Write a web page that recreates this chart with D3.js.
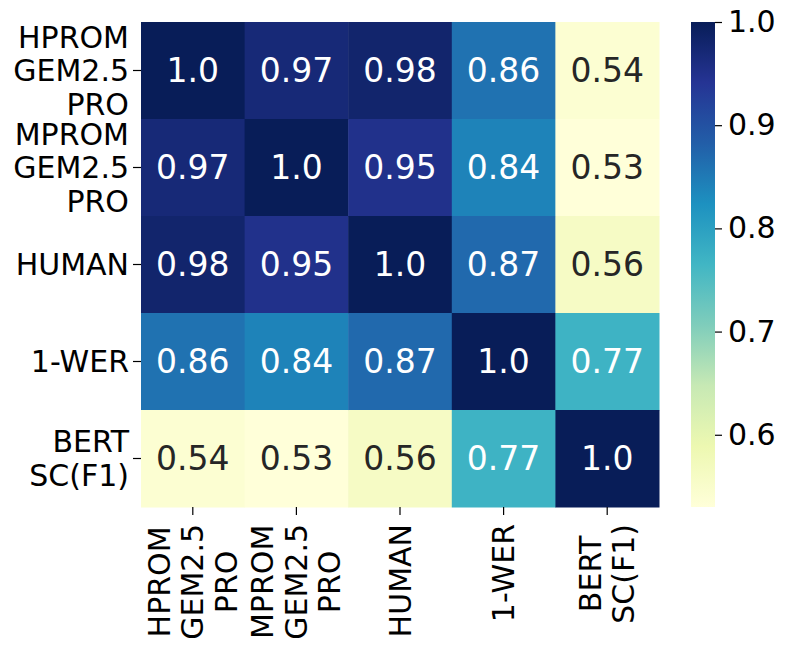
<!DOCTYPE html>
<html>
<head>
<meta charset="utf-8">
<script src="https://cdn.jsdelivr.net/npm/d3@7"></script>
<style>
  html, body { margin: 0; padding: 0; background: #fff; }
  svg { display: block; font-family: "DejaVu Sans", sans-serif; }
</style>
</head>
<body>
<svg id="chart" width="786" height="648"></svg>
<script>
// ---- data ----
const categories = [
  ["HPROM", "GEM2.5", "PRO"],
  ["MPROM", "GEM2.5", "PRO"],
  ["HUMAN"],
  ["1-WER"],
  ["BERT", "SC(F1)"]
];
const row0 = [1.0, 0.97, 0.98, 0.86, 0.54];
const row1 = [0.97, 1.0, 0.95, 0.84, 0.53];
const row2 = [0.98, 0.95, 1.0, 0.87, 0.56];
const row3 = [0.86, 0.84, 0.87, 1.0, 0.77];
const row4 = [0.54, 0.53, 0.56, 0.77, 1.0];
const matrix = [row0, row1, row2, row3, row4];
const colorbarTicks = [0.6, 0.7, 0.8, 0.9, 1.0];
const palette = ["#ffffd9", "#edf8b1", "#c7e9b4", "#7fcdbb", "#41b6c4",
                 "#1d91c0", "#225ea8", "#253494", "#081d58"];

// ---- layout ----
const svg = d3.select("#chart");
const hm = { x0: 141, x1: 659, y0: 22, y1: 507 };
const cb = { x0: 691, x1: 715 };
const labelSize = 30;
const annotSize = 33;
const lineH = 33.5;

const idx = d3.range(categories.length);
const x = d3.scaleBand().domain(idx).range([hm.x0, hm.x1]).padding(0);
const y = d3.scaleBand().domain(idx).range([hm.y0, hm.y1]).padding(0);

const allVals = matrix.flat();
const vmin = d3.min(allVals), vmax = d3.max(allVals);
const stops = palette.map((c, i) => vmin + (vmax - vmin) * i / (palette.length - 1));
const color = d3.scaleLinear().domain(stops).range(palette).interpolate(d3.interpolateRgb).clamp(true);

function textColor(c) {
  const rgb = d3.rgb(c);
  const lin = v => { v /= 255; return v <= 0.03928 ? v / 12.92 : Math.pow((v + 0.055) / 1.055, 2.4); };
  const l = 0.2126 * lin(rgb.r) + 0.7152 * lin(rgb.g) + 0.0722 * lin(rgb.b);
  return l > 0.408 ? "#262626" : "#ffffff";
}
const fmt = v => v === 1 ? "1.0" : d3.format(".2f")(v);

// ---- cells ----
const cells = [];
matrix.forEach((row, r) => row.forEach((v, c) => cells.push({ r, c, v })));

svg.append("g").selectAll("rect").data(cells).join("rect")
  .attr("x", d => x(d.c))
  .attr("y", d => y(d.r))
  .attr("width", x.bandwidth() + 0.5)
  .attr("height", y.bandwidth() + 0.5)
  .attr("fill", d => color(d.v));

svg.append("g").selectAll("text").data(cells).join("text")
  .attr("x", d => x(d.c) + x.bandwidth() / 2)
  .attr("y", d => y(d.r) + y.bandwidth() / 2)
  .attr("text-anchor", "middle")
  .attr("dominant-baseline", "central")
  .attr("font-size", annotSize)
  .attr("fill", d => textColor(color(d.v)))
  .text(d => fmt(d.v));

// ---- y axis ----
const yAxis = svg.append("g");
idx.forEach(i => {
  const cy = y(i) + y.bandwidth() / 2;
  yAxis.append("line").attr("x1", hm.x0 - 8).attr("x2", hm.x0).attr("y1", cy).attr("y2", cy)
    .attr("stroke", "#000").attr("stroke-width", 1.2);
  const lines = categories[i];
  const t = yAxis.append("text").attr("text-anchor", "end").attr("font-size", labelSize).attr("fill", "#000");
  lines.forEach((ln, k) => {
    t.append("tspan").attr("x", hm.x0 - 12)
      .attr("y", cy + (k - (lines.length - 1) / 2) * lineH)
      .attr("dominant-baseline", "central").text(ln);
  });
});

// ---- x axis ----
const xAxis = svg.append("g");
idx.forEach(i => {
  const cx = x(i) + x.bandwidth() / 2;
  xAxis.append("line").attr("x1", cx).attr("x2", cx).attr("y1", hm.y1).attr("y2", hm.y1 + 8)
    .attr("stroke", "#000").attr("stroke-width", 1.2);
  const lines = categories[i];
  const g = xAxis.append("g");
  const t = g.append("text").attr("text-anchor", "middle").attr("font-size", labelSize).attr("fill", "#000");
  const spans = lines.map((ln, k) => t.append("tspan").attr("x", 0)
      .attr("y", (k - (lines.length - 1) / 2) * lineH)
      .attr("dominant-baseline", "central").text(ln));
  const w = d3.max(spans, s => s.node().getComputedTextLength());
  g.attr("transform", `translate(${cx},${hm.y1 + 17 + w / 2}) rotate(-90)`);
});

// ---- colorbar ----
const cbScale = d3.scaleLinear().domain([vmin, vmax]).range([hm.y1, hm.y0]);
const defs = svg.append("defs");
const grad = defs.append("linearGradient").attr("id", "cbgrad")
  .attr("x1", 0).attr("y1", 1).attr("x2", 0).attr("y2", 0);
palette.forEach((c, i) => {
  grad.append("stop").attr("offset", i / (palette.length - 1)).attr("stop-color", c);
});
svg.append("rect").attr("x", cb.x0).attr("y", hm.y0)
  .attr("width", cb.x1 - cb.x0).attr("height", hm.y1 - hm.y0)
  .attr("fill", "url(#cbgrad)");

const cbAxis = d3.axisRight(cbScale).tickValues(colorbarTicks).tickSize(7).tickPadding(6)
  .tickFormat(d3.format(".1f"));
const cbg = svg.append("g").attr("transform", `translate(${cb.x1},0)`).call(cbAxis);
cbg.select(".domain").remove();
cbg.selectAll(".tick line").attr("stroke", "#000").attr("stroke-width", 1.2);
cbg.selectAll(".tick text").attr("font-size", labelSize).attr("fill", "#000")
  .attr("font-family", "DejaVu Sans, sans-serif");
</script>
</body>
</html>
